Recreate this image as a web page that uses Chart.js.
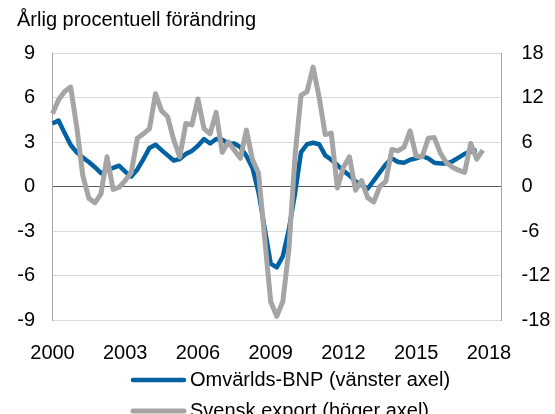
<!DOCTYPE html>
<html>
<head>
<meta charset="utf-8">
<script src="https://cdn.jsdelivr.net/npm/chart.js@4/dist/chart.umd.min.js"></script>
<style>
  html, body { margin: 0; padding: 0; background: #fff; }
  #wrap { width: 555px; height: 414px; position: relative; }
</style>
</head>
<body>
<div id="wrap"><canvas id="myChart"></canvas></div>
<script>
// kvartal 2000K1 .. 2018K3
const startYear = 2000;
const nQuarters = 75;
const tickYears = [2000, 2003, 2006, 2009, 2012, 2015, 2018];
const leftTicks = [-9, -6, -3, 0, 3, 6, 9];
const rightTicks = [-18, -12, -6, 0, 6, 12, 18];

// Omvärlds-BNP, vänster axel
const omvarldsBnp = [
  4.25, 4.45, 3.6, 2.8, 2.3, 1.95, 1.65, 1.3, 0.9, 1.1, 1.25, 1.4,
  1.0, 0.68, 1.15, 1.85, 2.6, 2.82, 2.45, 2.1, 1.75, 1.85, 2.2, 2.4,
  2.75, 3.2, 2.9, 3.2, 3.15, 2.9, 2.9, 2.65, 2.05, 1.25, -0.4, -2.8,
  -5.2, -5.45, -4.7, -2.9, -0.5, 2.3, 2.85, 2.95, 2.85, 2.1, 1.8, 1.45,
  1.05, 0.75, 0.35, 0.1, -0.15, 0.4, 0.95, 1.5, 1.9, 1.65, 1.6, 1.8,
  1.9, 2.05, 1.9, 1.6, 1.55, 1.55, 1.7, 1.95, 2.2, 2.35, 2.45
];

// Svensk export, höger axel
const svenskExport = [
  9.8, 11.7, 12.8, 13.4, 8.0, 1.5, -1.6, -2.2, -1.0, 4.0, -0.4, -0.1,
  0.8, 1.9, 6.5, 7.1, 7.8, 12.5, 10.2, 9.4, 6.3, 4.0, 8.5, 8.3,
  11.8, 7.8, 7.1, 10.0, 4.6, 6.0, 4.9, 3.8, 7.6, 3.6, 1.8, -6.9,
  -15.5, -17.5, -15.5, -8.5, 4.0, 12.3, 12.8, 16.1, 12.0, 7.0, 7.2, -0.2,
  2.6, 4.0, -0.5, 0.8, -1.5, -2.1, 0.0, 0.7, 5.0, 4.8, 5.3, 7.5,
  4.1, 4.0, 6.5, 6.6, 4.5, 3.2, 2.6, 2.2, 1.9, 5.8, 3.7, 4.9
];

const labels = [];
for (let i = 0; i < nQuarters; i++) {
  labels.push((startYear + Math.floor(i / 4)) + 'K' + (i % 4 + 1));
}

Chart.defaults.font.family = "'Liberation Sans', Arial, sans-serif";
Chart.defaults.font.size = 20;
Chart.defaults.color = '#000';

// legend under the chart, one row per serie
const legendRows = {
  id: 'legendRows',
  afterDraw(chart) {
    const ctx = chart.ctx;
    ctx.save();
    chart.data.datasets.forEach((ds, i) => {
      const y = 380 + i * 31;
      ctx.strokeStyle = ds.borderColor;
      ctx.lineWidth = ds.borderWidth;
      ctx.lineCap = 'round';
      ctx.beginPath();
      ctx.moveTo(133, y);
      ctx.lineTo(184, y);
      ctx.stroke();
      ctx.fillStyle = '#000';
      ctx.font = "20px 'Liberation Sans', Arial, sans-serif";
      ctx.textBaseline = 'middle';
      ctx.textAlign = 'left';
      ctx.fillText(ds.label, 190, y);
    });
    ctx.restore();
  }
};

var ctx = document.getElementById('myChart').getContext('2d');
var myChart = new Chart(ctx, {
  type: 'line',
  data: {
    labels: labels,
    datasets: [{
      label: 'Omvärlds-BNP (vänster axel)',
      data: omvarldsBnp,
      yAxisID: 'y',
      borderColor: '#0061a3',
      borderWidth: 4.5,
      order: 1
    }, {
      label: 'Svensk export (höger axel)',
      data: svenskExport,
      yAxisID: 'y1',
      borderColor: '#a5a5a5',
      borderWidth: 5,
      order: 0
    }]
  },
  options: {
    responsive: true,
    maintainAspectRatio: false,
    animation: false,
    layout: { padding: { left: 17, right: 0, top: 0, bottom: 44 } },
    elements: {
      point: { radius: 0 },
      line: { tension: 0, borderJoinStyle: 'round', fill: false }
    },
    plugins: {
      legend: { display: false },
      tooltip: { enabled: false },
      title: {
        display: true,
        text: 'Årlig procentuell förändring',
        align: 'start',
        color: '#000',
        font: { size: 20, weight: 'normal' },
        padding: { top: 8, bottom: 21 }
      }
    },
    scales: {
      x: {
        type: 'category',
        grid: { display: false },
        border: { display: false },
        afterFit: s => { s.height = 50; },
        ticks: {
          autoSkip: false,
          maxRotation: 0,
          padding: 13,
          callback: function (v, i) {
            const yr = startYear + Math.floor(i / 4);
            return (i % 4 === 0 && tickYears.includes(yr)) ? String(yr) : '';
          }
        }
      },
      y: {
        position: 'left',
        min: leftTicks[0],
        max: leftTicks[leftTicks.length - 1],
        afterFit: s => { s.width = 35.5; },
        afterBuildTicks: s => { s.ticks = leftTicks.map(v => ({ value: v })); },
        border: { display: true, color: '#a6a6a6', width: 1 },
        grid: {
          drawTicks: false,
          color: c => c.tick && c.tick.value === 0 ? '#595959' : '#d9d9d9',
          lineWidth: 1
        },
        ticks: { padding: 17.5 }
      },
      y1: {
        position: 'right',
        min: rightTicks[0],
        max: rightTicks[rightTicks.length - 1],
        afterFit: s => { s.width = 54; },
        afterBuildTicks: s => { s.ticks = rightTicks.map(v => ({ value: v })); },
        border: { display: true, color: '#a6a6a6', width: 1 },
        grid: { display: false, drawTicks: false },
        ticks: { padding: 20.5 }
      }
    }
  },
  plugins: [legendRows]
});

myChart.update();
</script>
</body>
</html>
